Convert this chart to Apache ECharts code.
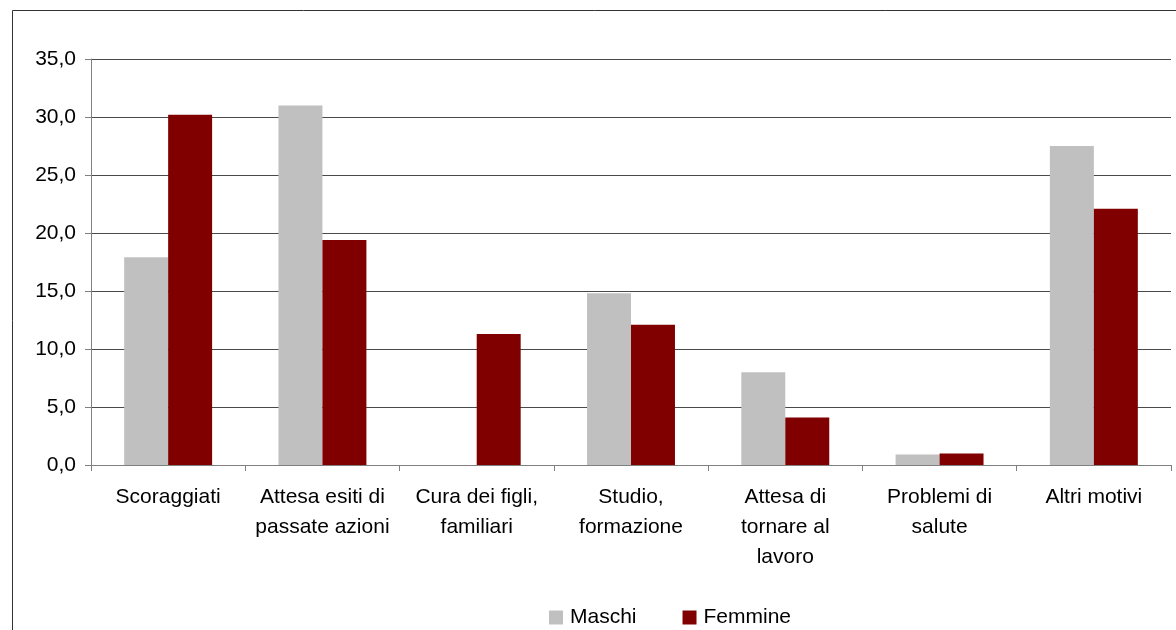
<!DOCTYPE html>
<html><head><meta charset="utf-8">
<script src="https://cdn.jsdelivr.net/npm/echarts@6/dist/echarts.min.js"></script>
<style>html,body{margin:0;padding:0;background:#fff}#c{width:1176px;height:630px}</style>
</head><body><div id="c"></div>
<script>
const categories = ["Scoraggiati", "Attesa esiti di\npassate azioni", "Cura dei figli,\nfamiliari", "Studio,\nformazione", "Attesa di\ntornare al\nlavoro", "Problemi di\nsalute", "Altri motivi"];
const maschi = [17.9, 31.0, 0, 14.8, 8.0, 0.9, 27.5];
const femmine = [30.2, 19.4, 11.3, 12.1, 4.1, 1.0, 22.1];
const seriesNames = ["Maschi", "Femmine"];
const yTicks = {min: 0, max: 35, interval: 5};

const chart = echarts.init(document.getElementById('c'));
const font = 'Liberation Sans, Arial, sans-serif';
chart.setOption({
  animation: false,
  graphic: [{type: 'rect', shape: {x: 12.5, y: 10.5, width: 1300, height: 800}, style: {fill: 'none', stroke: '#333', lineWidth: 1}, z: -1}],
  grid: {left: 91, right: 5, top: 59, bottom: 165},
  legend: {
    data: seriesNames, left: 544, top: 602, itemWidth: 14, itemHeight: 14, itemGap: 46,
    icon: 'rect', textStyle: {fontFamily: font, fontSize: 21, color: '#000', padding: [0,0,0,2]}
  },
  xAxis: {
    type: 'category', data: categories,
    axisLine: {lineStyle: {color: '#808080', width: 1}},
    axisTick: {show: true, length: 6, lineStyle: {color: '#808080'}},
    axisLabel: {interval: 0, margin: 17, fontFamily: font, fontSize: 21, color: '#000', lineHeight: 30}
  },
  yAxis: {
    type: 'value', min: yTicks.min, max: yTicks.max, interval: yTicks.interval,
    axisLine: {show: true, lineStyle: {color: '#808080'}},
    axisTick: {show: true, length: 6, lineStyle: {color: '#808080'}},
    splitLine: {lineStyle: {color: '#4a4a4a', width: 1}},
    axisLabel: {margin: 15, fontFamily: font, fontSize: 21, color: '#000',
      formatter: v => v.toFixed(1).replace('.', ',')}
  },
  series: [
    {name: seriesNames[0], type: 'bar', data: maschi, barGap: '0%', barCategoryGap: '43%', itemStyle: {color: '#C0C0C0'}},
    {name: seriesNames[1], type: 'bar', data: femmine, barGap: '0%', barCategoryGap: '43%', itemStyle: {color: '#800000'}}
  ]
});
</script></body></html>
